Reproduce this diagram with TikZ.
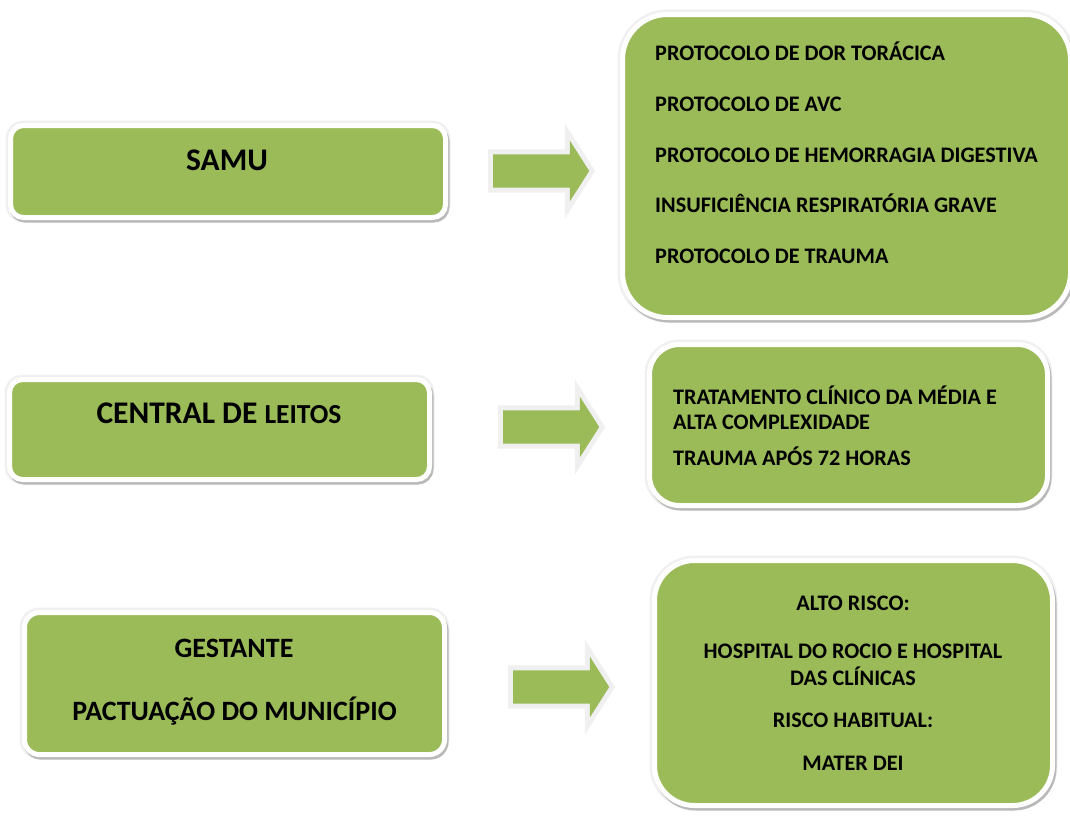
\documentclass[tikz,border=0pt]{standalone}
\usepackage{fontspec}
\setmainfont{Carlito}
\usetikzlibrary{shapes.arrows,positioning}
\definecolor{caixaverde}{RGB}{155,187,89}
\tikzstyle{caixa}=[rectangle,fill=caixaverde,draw=white,line width=5pt,
  preaction={draw=gray!12,line width=10pt},
  preaction={draw=gray!55,line width=5pt,transform canvas={xshift=1.5pt,yshift=-2.5pt}}]
\tikzstyle{seta}=[single arrow,fill=caixaverde,inner sep=0pt,inner ysep=16.5pt,
  single arrow head extend=13.5pt,single arrow tip angle=115,minimum height=96pt,
  anchor=tail,preaction={draw=gray!12,line width=10pt}]
\tikzstyle{titulo}=[font=\bfseries\fontsize{31.5}{36}\selectfont,anchor=base,inner sep=0pt]
\tikzstyle{subtitulo}=[font=\bfseries\fontsize{28}{32}\selectfont,anchor=base,inner sep=0pt]
\tikzstyle{item}=[font=\bfseries\fontsize{22.2}{26}\selectfont,anchor=base west,inner sep=0pt]
\tikzstyle{itemc}=[item,anchor=base]

\begin{document}
\begin{tikzpicture}[x=1pt,y=-1pt]
\useasboundingbox (0,0) rectangle (1070,815);
% caixas da esquerda
\node[caixa,rounded corners=13pt,minimum width=435pt,minimum height=92pt] (samu) at (228,171.5) {};
\node[caixa,rounded corners=13pt,minimum width=420pt,minimum height=100pt] (leitos) at (219.5,429.5) {};
\node[caixa,rounded corners=15pt,minimum width=420pt,minimum height=142pt] (gest) at (234.5,683.5) {};
\node[titulo] (samutxt) at (227,170) {SAMU};
\node[titulo] (leitostxt) at (219,423) {CENTRAL DE {\fontsize{27.5}{30}\selectfont LEITOS}};
\node[subtitulo] (gesttxt) at (234,657) {GESTANTE};
\node[subtitulo] (pacttxt) at (234.5,720) {PACTUAÇÃO DO MUNICÍPIO};
% setas
\node[seta] (s1) at (493,171) {};
\node[seta] (s2) at (503,427) {};
\node[seta] (s3) at (513,687) {};
% caixas da direita
\node[caixa,rounded corners=45pt,minimum width=448pt,minimum height=303pt] (prot) at (846.5,166) {};
\node[caixa,rounded corners=30pt,minimum width=398pt,minimum height=161pt] (trat) at (848.5,425) {};
\node[caixa,rounded corners=40pt,minimum width=398pt,minimum height=245pt] (risco) at (853.5,683) {};
\node[item] (p1) at (655,60) {PROTOCOLO DE DOR TORÁCICA};
\node[item] (p2) at (655,111) {PROTOCOLO DE AVC};
\node[item] (p3) at (655,162) {PROTOCOLO DE HEMORRAGIA DIGESTIVA};
\node[item] (p4) at (655,212) {INSUFICIÊNCIA RESPIRATÓRIA GRAVE};
\node[item] (p5) at (655,263.5) {PROTOCOLO DE TRAUMA};
\node[item] (t1) at (673,404) {TRATAMENTO CLÍNICO DA MÉDIA E};
\node[item] (t2) at (673,429) {ALTA COMPLEXIDADE};
\node[item] (t3) at (673,465) {TRAUMA APÓS 72 HORAS};
\node[itemc] (r1) at (853,610) {ALTO RISCO:};
\node[itemc] (r2) at (853,658.5) {HOSPITAL DO ROCIO E HOSPITAL};
\node[itemc] (r3) at (853,685) {DAS CLÍNICAS};
\node[itemc] (r4) at (853,727) {RISCO HABITUAL:};
\node[itemc] (r5) at (853,770) {MATER DEI};
\end{tikzpicture}
\end{document}
